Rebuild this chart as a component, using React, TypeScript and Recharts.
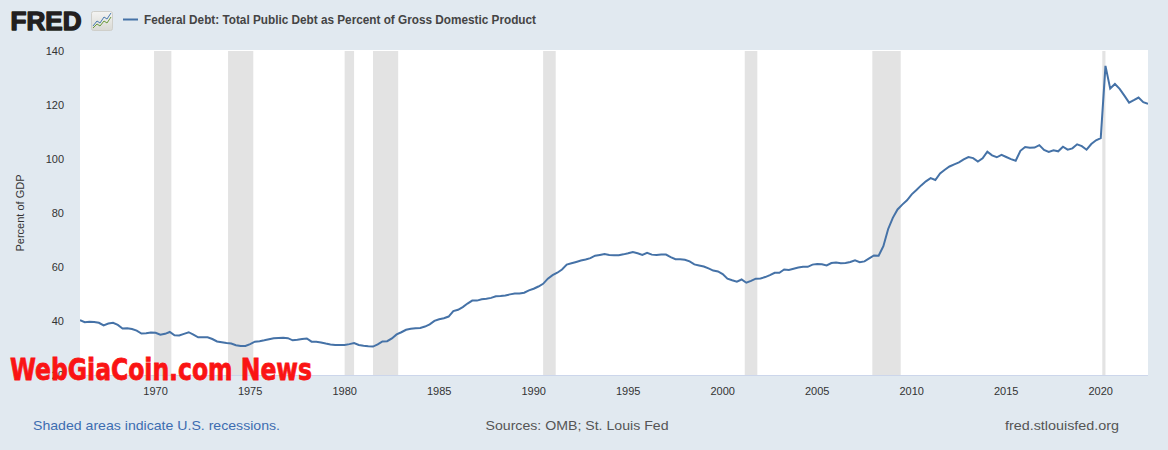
import React from 'react';
import {
    LineChart,
    Line,
    XAxis,
    YAxis,
    CartesianGrid,
    ReferenceArea
} from 'recharts';

// quarterly values, first quarter of 1966 onwards (percent of GDP)
const START_YEAR = 1966;
const debt1960s = [40.5, 39.7, 39.9, 39.8, 39.5, 38.5, 39.2, 39.5, 38.7, 37.4, 37.5, 37.2, 36.6, 35.5, 35.6, 35.9];
const debt1970s = [
    35.8, 35.1, 35.4, 36.1, 34.9, 34.8, 35.4, 36.0, 35.1, 34.1, 34.1, 34.1, 33.5, 32.6, 32.3, 32.0,
    31.8, 31.2, 30.9, 30.9, 31.6, 32.5, 32.7, 33.0, 33.4, 33.8, 33.9, 34.0, 33.8, 33.0, 33.2, 33.5,
    33.7, 32.5, 32.5, 32.2, 31.8, 31.5, 31.3, 31.3
];
const debt1980s = [
    31.3, 31.6, 32.0, 31.3, 31.0, 30.8, 30.7, 31.5, 32.6, 32.7, 33.7, 35.2, 36.0, 36.9, 37.3, 37.5,
    37.6, 38.1, 38.9, 40.2, 40.8, 41.2, 41.8, 43.8, 44.3, 45.3, 46.6, 47.7, 47.7, 48.2, 48.4, 48.7,
    49.3, 49.4, 49.6, 50.0, 50.3, 50.3, 50.6, 51.5
];
const debt1990s = [
    52.1, 52.9, 53.9, 55.8, 57.1, 58.0, 59.2, 61.0, 61.5, 62.0, 62.5, 62.9, 63.4, 64.3, 64.6, 64.9,
    64.6, 64.5, 64.5, 64.8, 65.2, 65.7, 65.2, 64.6, 65.4, 64.7, 64.6, 64.7, 64.7, 63.8, 63.0, 63.0,
    62.8, 62.2, 61.1, 60.7, 60.3, 59.6, 58.8, 58.5
];
const debt2000s = [
    57.5, 55.8, 55.2, 54.7, 55.5, 54.3, 55.0, 55.8, 55.9, 56.4, 57.1, 58.0, 58.0, 59.2, 59.0, 59.5,
    59.9, 60.2, 60.2, 61.0, 61.2, 61.1, 60.7, 61.6, 61.8, 61.5, 61.6, 62.0, 62.6, 61.9, 62.2, 63.3,
    64.4, 64.3, 67.8, 74.1, 78.3, 81.4, 83.2, 84.8
];
const debt2010s = [
    87.0, 88.6, 90.3, 91.8, 93.0, 92.3, 94.7, 96.1, 97.3, 98.1, 98.8, 99.9, 100.8, 100.4, 99.1, 100.3,
    102.8, 101.4, 100.7, 101.6, 100.8, 100.0, 99.4, 103.1, 104.5, 104.2, 104.3, 105.2, 103.4, 102.7, 103.3, 102.9,
    104.6, 103.5, 104.0, 105.5, 104.8, 103.5, 105.6, 107.0
];
const debt2020s = [107.8, 134.5, 126.1, 127.8, 126.0, 123.5, 120.9, 121.8, 122.8, 121.1, 120.5];

const recessionStarts = [1969.917, 1973.833, 1980.0, 1981.5, 1990.5, 2001.167, 2007.917, 2020.083];
const recessionEnds = [1970.833, 1975.167, 1980.5, 1982.833, 1991.167, 2001.833, 2009.417, 2020.25];

const xTicks = [1970, 1975, 1980, 1985, 1990, 1995, 2000, 2005, 2010, 2015, 2020];
const yTicks = [20, 40, 60, 80, 100, 120, 140];

const allDebt = [...debt1960s, ...debt1970s, ...debt1980s, ...debt1990s, ...debt2000s, ...debt2010s, ...debt2020s];
const data = allDebt.map((v, i) => ({ t: START_YEAR + i / 4, debt: v }));

const BG = '#e1e9f0';
const LINE = '#4572a7';
const FONT = '"Liberation Sans", Arial, sans-serif';

export default function App() {
    return (
        <div style={{ position: 'absolute', left: 0, top: 0, width: 1168, height: 450, background: BG, fontFamily: FONT }}>
            <LineChart
                width={1168}
                height={450}
                data={data}
                margin={{ top: 51, right: 20, left: 20, bottom: 44.5 }}
                style={{ position: 'absolute', left: 0, top: 0 }}
            >
                <rect x={80} y={50} width={1068} height={325.5} fill="#ffffff" />
                <CartesianGrid vertical={false} stroke="#e6e6e6" fill="#ffffff" />
                {recessionStarts.map((s, i) => (
                    <ReferenceArea
                        key={`rec-${i}`}
                        x1={s}
                        x2={recessionEnds[i]}
                        fill="#e3e3e3"
                        fillOpacity={1}
                        stroke="none"
                    />
                ))}
                <XAxis
                    dataKey="t"
                    type="number"
                    domain={[1966, 2022.5]}
                    ticks={xTicks}
                    interval={0}
                    height={30}
                    tickLine={false}
                    tickSize={6}
                    tickMargin={6}
                    axisLine={{ stroke: '#ccd6eb' }}
                    tick={{ fontSize: 11, fill: '#333', fontFamily: FONT }}
                    allowDataOverflow
                />
                <YAxis
                    type="number"
                    domain={[20, 140]}
                    ticks={yTicks}
                    interval={0}
                    width={60}
                    axisLine={false}
                    tickLine={false}
                    tickSize={6}
                    tickMargin={10}
                    tick={{ fontSize: 11, fill: '#333', fontFamily: FONT }}
                />
                <Line
                    type="linear"
                    dataKey="debt"
                    stroke={LINE}
                    strokeWidth={2}
                    dot={false}
                    activeDot={false}
                    isAnimationActive={false}
                />
            </LineChart>

            <svg width={1168} height={450} style={{ position: 'absolute', left: 0, top: 0, pointerEvents: 'none' }}>
                {/* FRED logo */}
                <text x={10.5} y={30} fontFamily={FONT} fontWeight={900} fontSize={26} fill="#231f20"
                    stroke="#231f20" strokeWidth={1.4} strokeLinejoin="round"
                    textLength={71} lengthAdjust="spacingAndGlyphs">FRED</text>
                <defs>
                    <linearGradient id="icon" x1="0" y1="0" x2="0" y2="1">
                        <stop offset="0%" stopColor="#f4f4f2" />
                        <stop offset="100%" stopColor="#d9d9d4" />
                    </linearGradient>
                </defs>
                <rect x={91.5} y={11.5} width={21} height={19} rx={2} fill="url(#icon)" stroke="#cfcfca" />
                <polyline points="93,26 97,21 100,23 104,17 107,19 111,13" fill="none" stroke="#4a7bb0" strokeWidth={1} />
                <polyline points="93,28 97,24 100,26 104,21 107,23 111,17" fill="none" stroke="#6a9a3a" strokeWidth={1} />

                {/* legend */}
                <line x1={123} x2={138} y1={19.5} y2={19.5} stroke={LINE} strokeWidth={2} />
                <text x={144} y={23.5} fontFamily={FONT} fontWeight={700} fontSize={12} fill="#444"
                    textLength={392} lengthAdjust="spacingAndGlyphs">
                    Federal Debt: Total Public Debt as Percent of Gross Domestic Product
                </text>

                {/* axis title */}
                <text x={24} y={213} transform="rotate(-90 24 213)" textAnchor="middle" fontFamily={FONT} fontSize={11} fill="#333">
                    Percent of GDP
                </text>

                {/* footer */}
                <text x={33} y={430} fontFamily={FONT} fontSize={13} fill="#3d6db0" textLength={247} lengthAdjust="spacingAndGlyphs">
                    Shaded areas indicate U.S. recessions.
                </text>
                <text x={485.5} y={430} fontFamily={FONT} fontSize={13} fill="#555" textLength={183} lengthAdjust="spacingAndGlyphs">
                    Sources: OMB; St. Louis Fed
                </text>
                <text x={1005} y={430} fontFamily={FONT} fontSize={13} fill="#555" textLength={114} lengthAdjust="spacingAndGlyphs">
                    fred.stlouisfed.org
                </text>

                {/* watermark */}
                <text x={10} y={380} fontFamily='"DejaVu Sans", sans-serif' fontWeight={900} fontSize={30} fill="#fa1414"
                    stroke="#fa1414" strokeWidth={0.8}
                    textLength={302} lengthAdjust="spacingAndGlyphs">
                    WebGiaCoin.com News
                </text>
            </svg>
        </div>
    );
}
